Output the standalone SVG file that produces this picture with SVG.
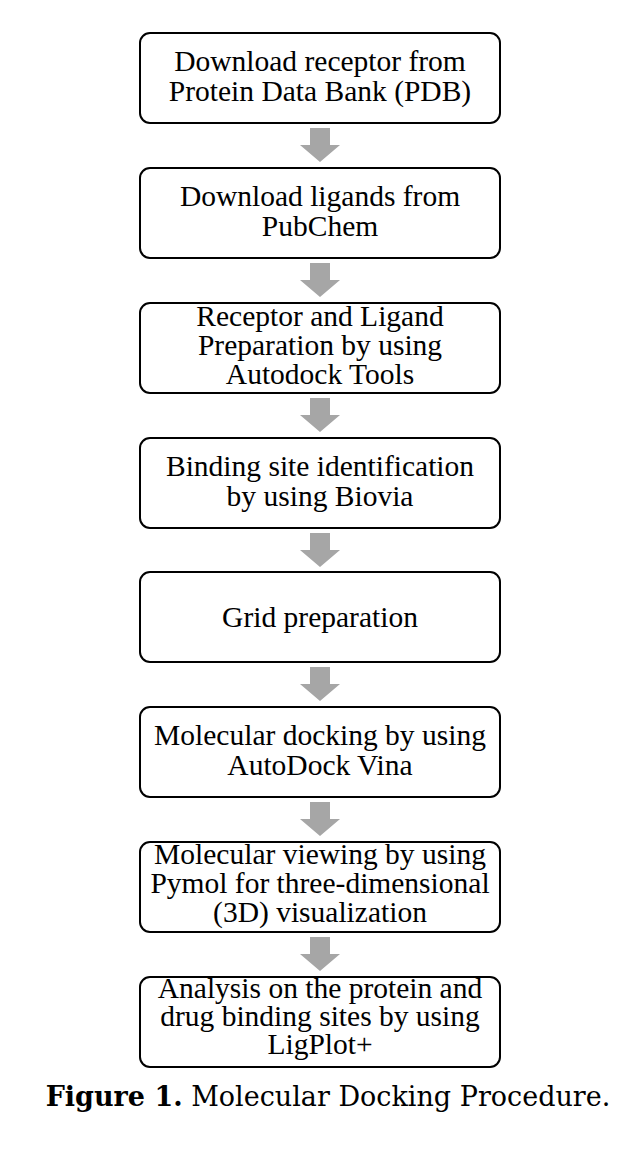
<svg xmlns="http://www.w3.org/2000/svg" width="630" height="1158" viewBox="0 0 630 1158">
<style>
.box{fill:#fff;stroke:#000;stroke-width:2}
.t{font-family:"Liberation Serif","Times New Roman",serif;font-size:29.5px;fill:#000;text-anchor:middle}
.arr{fill:#a6a6a6}
.cap{font-family:"DejaVu Serif",serif;font-size:27px;fill:#000;text-anchor:middle}
</style>
<defs>
<path id="a" class="arr" d="M310,0 H330 V17 H340 L320,34 L300,17 H310 Z"/>
</defs>
<rect width="630" height="1158" fill="#fff"/>
<g id="connectors">
<use href="#a" y="128"/>
<use href="#a" y="263"/>
<use href="#a" y="398"/>
<use href="#a" y="533"/>
<use href="#a" y="667"/>
<use href="#a" y="802"/>
<use href="#a" y="937"/>
</g>
<g id="n1"><rect class="box" x="140" y="33" width="360" height="90" rx="10"/>
<text class="t" x="320" y="71">Download receptor from</text><text class="t" x="320" y="101">Protein Data Bank (PDB)</text></g>
<g id="n2"><rect class="box" x="140" y="168" width="360" height="90" rx="10"/>
<text class="t" x="320" y="206">Download ligands from</text><text class="t" x="320" y="236">PubChem</text></g>
<g id="n3"><rect class="box" x="140" y="303" width="360" height="90" rx="10"/>
<text class="t" x="320" y="326">Receptor and Ligand</text><text class="t" x="320" y="355">Preparation by using</text><text class="t" x="320" y="384">Autodock Tools</text></g>
<g id="n4"><rect class="box" x="140" y="438" width="360" height="90" rx="10"/>
<text class="t" x="320" y="476">Binding site identification</text><text class="t" x="320" y="506">by using Biovia</text></g>
<g id="n5"><rect class="box" x="140" y="572" width="360" height="90" rx="10"/>
<text class="t" x="320" y="627">Grid preparation</text></g>
<g id="n6"><rect class="box" x="140" y="707" width="360" height="90" rx="10"/>
<text class="t" x="320" y="745">Molecular docking by using</text><text class="t" x="320" y="775">AutoDock Vina</text></g>
<g id="n7"><rect class="box" x="140" y="842" width="360" height="90" rx="10"/>
<text class="t" x="320" y="864">Molecular viewing by using</text><text class="t" x="320" y="893">Pymol for three-dimensional</text><text class="t" x="320" y="922">(3D) visualization</text></g>
<g id="n8"><rect class="box" x="140" y="977" width="360" height="90" rx="10"/>
<text class="t" x="320" y="998">Analysis on the protein and</text><text class="t" x="320" y="1026">drug binding sites by using</text><text class="t" x="320" y="1054">LigPlot+</text></g>
<text class="cap" x="328" y="1106"><tspan font-weight="bold">Figure 1.</tspan> Molecular Docking Procedure.</text>
</svg>
